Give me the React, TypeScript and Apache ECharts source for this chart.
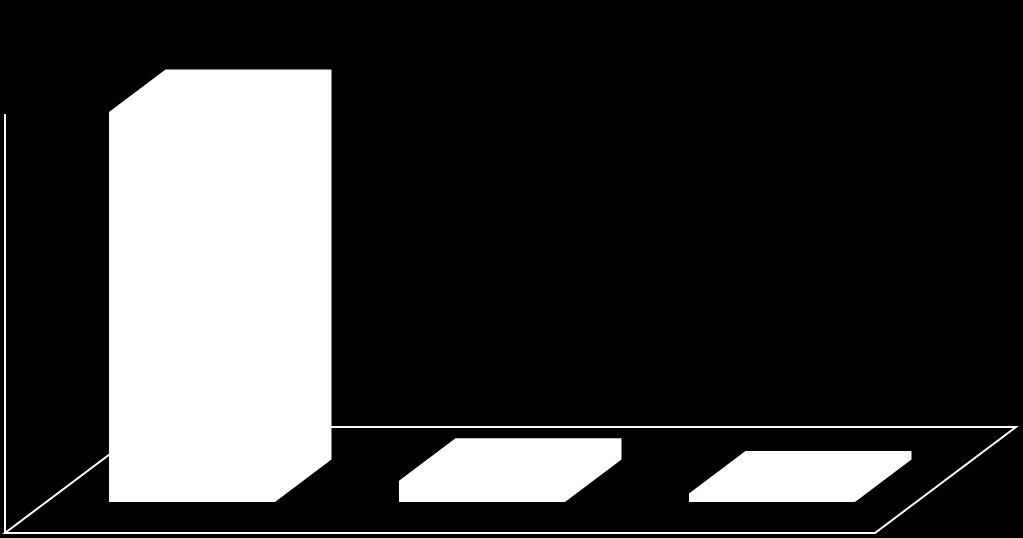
import React, { useEffect, useRef } from "react";
import * as echarts from "echarts";

const categories = ["A", "B", "C"];
const values = [93.1, 5.1, 2.0];
const axisMax = 100;

const WHITE = "#ffffff";
const BAR_RATIO = 166 / 290;
const BAR_DEPTH = [56.5, -42.5];
const FLOOR_FRONT = [-42, 31];
const FLOOR_DEPTH = [141, -106];

export default function App() {
  const ref = useRef<HTMLDivElement>(null);

  useEffect(() => {
    if (!ref.current) return;
    const chart = echarts.init(ref.current, undefined, { renderer: "svg" });
    chart.setOption({
      animation: false,
      backgroundColor: "#000000",
      grid: { left: 47, top: 83, width: 870, height: 419 },
      xAxis: { type: "category", data: categories, show: false },
      yAxis: { type: "value", min: 0, max: axisMax, show: false },
      series: [
        {
          type: "custom",
          silent: true,
          z: 1,
          data: [[0, 0]],
          encode: { x: 0, y: 1 },
          renderItem: (_p: any, api: any) => {
            const band = api.size([1, 0])[0];
            const first = api.coord([0, 0]);
            const top = api.coord([0, axisMax]);
            const x0 = first[0] - band / 2 + FLOOR_FRONT[0];
            const y0 = first[1] + FLOOR_FRONT[1];
            const x1 = x0 + band * categories.length;
            const style = { stroke: WHITE, lineWidth: 2, fill: "none" };
            return {
              type: "group",
              children: [
                {
                  type: "polygon",
                  shape: {
                    points: [
                      [x0, y0],
                      [x1, y0],
                      [x1 + FLOOR_DEPTH[0], y0 + FLOOR_DEPTH[1]],
                      [x0 + FLOOR_DEPTH[0], y0 + FLOOR_DEPTH[1]],
                    ],
                  },
                  style,
                },
                {
                  type: "line",
                  shape: { x1: x0, y1: y0, x2: x0, y2: top[1] + FLOOR_FRONT[1] },
                  style,
                },
              ],
            };
          },
        },
        {
          type: "custom",
          silent: true,
          z: 2,
          data: values.map((v, i) => [i, v]),
          encode: { x: 0, y: 1 },
          renderItem: (_p: any, api: any) => {
            const i = api.value(0);
            const base = api.coord([i, 0]);
            const peak = api.coord([i, api.value(1)]);
            const half = (api.size([1, 0])[0] * BAR_RATIO) / 2;
            const l = base[0] - half;
            const r = base[0] + half;
            const [dx, dy] = BAR_DEPTH;
            return {
              type: "polygon",
              shape: {
                points: [
                  [l, base[1]],
                  [r, base[1]],
                  [r + dx, base[1] + dy],
                  [r + dx, peak[1] + dy],
                  [l + dx, peak[1] + dy],
                  [l, peak[1]],
                ],
              },
              style: { fill: WHITE, stroke: "none" },
            };
          },
        },
      ],
    });
    return () => chart.dispose();
  }, []);

  return (
    <div
      ref={ref}
      style={{ position: "fixed", left: 0, top: 0, width: 1023, height: 538, background: "#000" }}
    />
  );
}
